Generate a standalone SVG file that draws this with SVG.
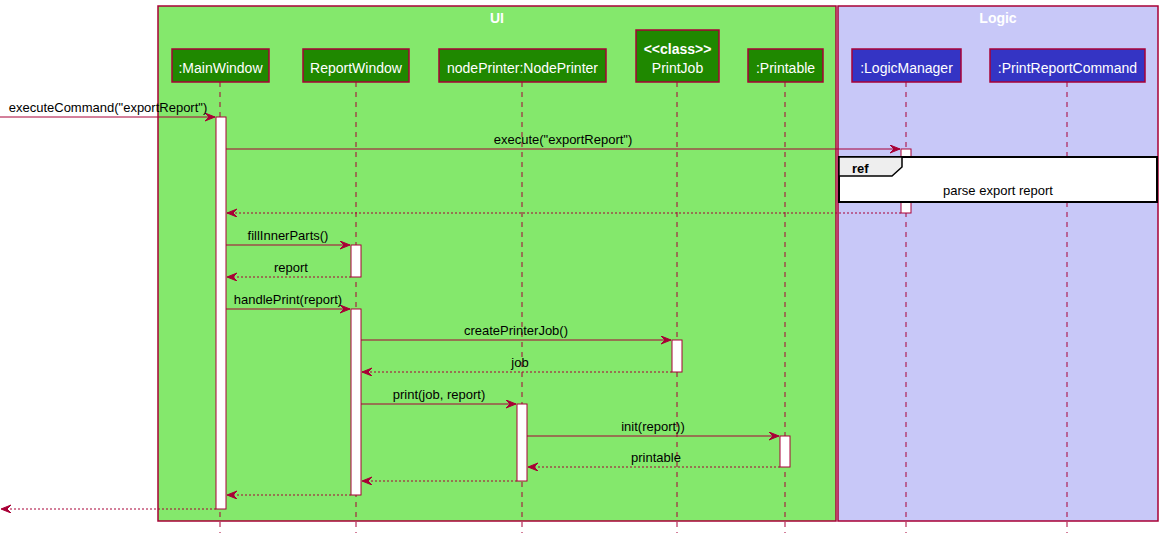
<svg xmlns="http://www.w3.org/2000/svg" width="1163" height="533" viewBox="0 0 1163 533">
<style>
text{font-family:"Liberation Sans",Arial,sans-serif;}
.title{font-size:14px;font-weight:bold;fill:#FFFFFF;text-anchor:middle;}
.ptxt{font-size:14px;fill:#FFFFFF;text-anchor:middle;}
.pui{fill:#1F8800;stroke:#A80036;stroke-width:1.5;}
.plogic{fill:#3434C4;stroke:#A80036;stroke-width:1.5;}
.life{stroke:#A80036;stroke-width:1;stroke-dasharray:5,5;fill:none;}
.act{fill:#FFFFFF;stroke:#A80036;stroke-width:1;}
.msg{stroke:#A80036;stroke-width:1;fill:none;marker-end:url(#ah);}
.ret{stroke:#A80036;stroke-width:1;fill:none;stroke-dasharray:2,2;marker-end:url(#ah);}
.lbl{font-size:13px;fill:#000000;text-anchor:middle;}
</style>
<defs>
<marker id="ah" markerUnits="userSpaceOnUse" markerWidth="12" markerHeight="10" refX="10" refY="4" orient="auto">
<path d="M0,0 L10,4 L0,8 L4,4 Z" fill="#A80036" stroke="#A80036" stroke-width="1"/>
</marker>
</defs>
<rect width="1163" height="533" fill="#FFFFFF"/>
<g id="box-ui">
<rect x="158" y="6" width="678" height="515" fill="#84E86C" stroke="#A80036" stroke-width="1.5"/>
<text class="title" x="497" y="23">UI</text>
</g>
<g id="box-logic">
<rect x="838" y="6" width="320" height="515" fill="#C8C8F8" stroke="#A80036" stroke-width="1.5"/>
<text class="title" x="998" y="23">Logic</text>
</g>
<g id="mainwindow">
<line class="life" x1="220" y1="82" x2="220" y2="533"/>
<rect class="pui" x="172" y="49" width="97" height="33"/>
<text class="ptxt" x="220.5" y="73">:MainWindow</text>
</g>
<g id="reportwindow">
<line class="life" x1="356" y1="82" x2="356" y2="533"/>
<rect class="pui" x="303" y="49" width="106" height="33"/>
<text class="ptxt" x="356" y="73">ReportWindow</text>
</g>
<g id="nodeprinter">
<line class="life" x1="522" y1="82" x2="522" y2="533"/>
<rect class="pui" x="439" y="49" width="167" height="33"/>
<text class="ptxt" x="522.5" y="73">nodePrinter:NodePrinter</text>
</g>
<g id="printjob">
<line class="life" x1="677" y1="82" x2="677" y2="533"/>
<rect class="pui" x="636" y="30" width="83" height="52"/>
<text class="ptxt" x="677.5" y="54" style="font-weight:bold">&lt;&lt;class&gt;&gt;</text>
<text class="ptxt" x="677.5" y="73">PrintJob</text>
</g>
<g id="printable">
<line class="life" x1="785" y1="82" x2="785" y2="533"/>
<rect class="pui" x="748" y="49" width="75" height="33"/>
<text class="ptxt" x="785.5" y="73">:Printable</text>
</g>
<g id="logicmanager">
<line class="life" x1="906" y1="82" x2="906" y2="533"/>
<rect class="plogic" x="852" y="49" width="109" height="33"/>
<text class="ptxt" x="906.5" y="73">:LogicManager</text>
</g>
<g id="printreportcommand">
<line class="life" x1="1067" y1="82" x2="1067" y2="533"/>
<rect class="plogic" x="990" y="49" width="155" height="33"/>
<text class="ptxt" x="1067.5" y="73">:PrintReportCommand</text>
</g>
<g id="activations">
<rect class="act" x="216" y="117" width="10" height="392"/>
<rect class="act" x="901" y="149" width="10" height="64"/>
<rect class="act" x="351" y="245" width="10" height="32"/>
<rect class="act" x="351" y="309" width="10" height="186"/>
<rect class="act" x="672" y="340" width="10" height="32"/>
<rect class="act" x="517" y="404" width="10" height="77"/>
<rect class="act" x="780" y="436" width="10" height="31"/>
</g>
<g id="ref-parse-export-report">
<rect x="839" y="157" width="318" height="45" fill="#FFFFFF" stroke="#000000" stroke-width="2"/>
<path d="M839,157 L902,157 L902,167 L892,176 L839,176 Z" fill="#EEEEEE" stroke="#000000" stroke-width="1.5"/>
<text x="852" y="173" style="font-size:13px;font-weight:bold;fill:#000000">ref</text>
<text class="lbl" x="998" y="195">parse export report</text>
</g>
<g id="connectors">
<line class="msg" x1="0" y1="117" x2="215" y2="117"/>
<text class="lbl" x="108" y="112">executeCommand("exportReport")</text>
<line class="msg" x1="226" y1="149" x2="900" y2="149"/>
<text class="lbl" x="563" y="144">execute("exportReport")</text>
<line class="ret" x1="901" y1="213" x2="227" y2="213"/>
<line class="msg" x1="226" y1="245" x2="350" y2="245"/>
<text class="lbl" x="288" y="240">fillInnerParts()</text>
<line class="ret" x1="351" y1="277" x2="227" y2="277"/>
<text class="lbl" x="291" y="272">report</text>
<line class="msg" x1="226" y1="309" x2="350" y2="309"/>
<text class="lbl" x="288" y="304">handlePrint(report)</text>
<line class="msg" x1="361" y1="340" x2="671" y2="340"/>
<text class="lbl" x="516" y="335">createPrinterJob()</text>
<line class="ret" x1="672" y1="372" x2="362" y2="372"/>
<text class="lbl" x="520" y="367">job</text>
<line class="msg" x1="361" y1="404" x2="516" y2="404"/>
<text class="lbl" x="439" y="399">print(job, report)</text>
<line class="msg" x1="527" y1="436" x2="779" y2="436"/>
<text class="lbl" x="653" y="431">init(report))</text>
<line class="ret" x1="780" y1="467" x2="528" y2="467"/>
<text class="lbl" x="656" y="462">printable</text>
<line class="ret" x1="517" y1="481" x2="362" y2="481"/>
<line class="ret" x1="351" y1="495" x2="227" y2="495"/>
<line class="ret" x1="216" y1="509" x2="1" y2="509"/>
</g>
</svg>
